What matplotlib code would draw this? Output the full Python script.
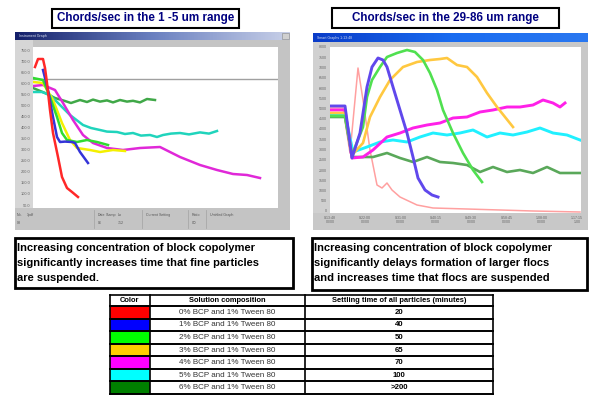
import numpy as np
import matplotlib
matplotlib.use("Agg")
import matplotlib.pyplot as plt
from matplotlib.patches import Rectangle
from matplotlib.colors import LinearSegmentedColormap

plt.rcParams["font.family"] = ["Liberation Sans", "DejaVu Sans"]

W, H = 592, 396

# -----------------------------
# Left chart: chords/sec, 1-5 um (time in min, counts)
# -----------------------------
l_red_t = [1, 2.5, 5, 6, 7, 8.5, 10, 12.5, 14.5, 17, 19.5, 22.5]
l_red_y = [705, 745, 745, 700, 625, 490, 375, 255, 155, 100, 80, 55]

l_blue_t = [5, 7.5, 10, 12, 13.5, 16, 19.5, 21, 23.5, 27.5]
l_blue_y = [690, 590, 455, 355, 330, 332, 330, 325, 280, 225]

l_green_t = [0, 5, 8.5, 12, 14.5, 17, 22, 27, 32, 37.5]
l_green_y = [650, 640, 555, 455, 375, 340, 330, 340, 330, 315]

l_yellow_t = [0, 5, 10, 14.5, 18.5, 22, 28.5, 33.5, 40, 46]
l_yellow_y = [630, 625, 540, 425, 340, 300, 290, 280, 290, 285]

l_magenta_t = [0, 5, 11, 15, 20, 25, 30, 37, 45, 53.5, 63.5, 73.5, 83.5, 92, 100, 107, 113.5]
l_magenta_y = [610, 615, 590, 525, 440, 365, 325, 300, 290, 300, 305, 255, 215, 190, 170, 165, 150]

l_cyan_t = [0, 4.5, 8.5, 12.5, 18.5, 25, 29, 33.5, 37, 42, 46, 50, 54, 58.5, 62, 65, 69, 73.5, 78, 83.5, 88, 92]
l_cyan_y = [580, 580, 565, 525, 465, 415, 400, 390, 382, 380, 370, 375, 362, 365, 355, 365, 372, 375, 368, 378, 372, 385]

l_dkgreen_t = [0, 6, 11, 16, 19, 23.5, 27, 30, 33.5, 37, 40, 43.5, 47, 50, 53.5, 57, 61]
l_dkgreen_y = [600, 575, 550, 535, 525, 540, 530, 542, 532, 538, 528, 540, 532, 536, 528, 545, 540]

l_ref_level = 645
l_tick_labels = ["750.0", "700.0", "650.0", "600.0", "550.0", "500.0", "450.0", "400.0",
                 "350.0", "300.0", "250.0", "200.0", "150.0", "100.0", "50.0"]

# -----------------------------
# Right chart: chords/sec, 29-86 um
# -----------------------------
r_red_t = [0, 6.5, 10, 14, 16.5, 20, 23.5, 26, 28.5, 31, 35, 43.5, 51.5, 68.5, 85, 101.5, 125]
r_red_y = [525, 525, 300, 725, 565, 315, 140, 125, 150, 115, 80, 40, 25, 20, 15, 10, 5]

r_blue_t = [0, 7.5, 11, 15, 18.5, 21, 24, 26.5, 28.5, 31.5, 35, 38.5, 41.5, 44, 47.5, 51, 54]
r_blue_y = [535, 535, 275, 400, 630, 730, 775, 765, 730, 630, 515, 400, 280, 175, 115, 90, 80]

r_green_t = [0, 7.5, 11, 16.5, 18.5, 21, 25, 28.5, 33.5, 38.5, 42.5, 46.5, 50, 53.5, 56.5, 61.5, 66.5, 71.5, 76]
r_green_y = [485, 485, 290, 430, 580, 665, 730, 780, 800, 815, 805, 765, 700, 615, 515, 400, 300, 215, 155]

r_yellow_t = [0, 7.5, 11, 16.5, 20, 25, 30, 36.5, 43.5, 50, 55, 58.5, 63.5, 68.5, 73.5, 78.5, 83.5, 87.5, 91.5]
r_yellow_y = [500, 500, 290, 350, 480, 580, 665, 730, 755, 765, 770, 775, 740, 730, 680, 600, 530, 480, 430]

r_magenta_t = [0, 7.5, 11, 16.5, 21.5, 28.5, 35, 41.5, 48.5, 55, 61.5, 68.5, 75, 81.5, 88.5, 95,
               101.5, 106.5, 111.5, 115, 117.5]
r_magenta_y = [515, 515, 275, 280, 315, 380, 400, 425, 440, 450, 475, 480, 505, 515, 530, 530,
               540, 565, 550, 530, 550]

r_cyan_t = [0, 7.5, 11.5, 18.5, 25, 31.5, 38.5, 45, 51.5, 58.5, 65, 71.5, 78.5, 85, 91.5, 98.5,
            105, 111.5, 118.5, 125]
r_cyan_y = [495, 495, 305, 330, 355, 365, 355, 380, 400, 390, 400, 415, 380, 400, 390, 405,
            425, 400, 390, 365]

r_dkgreen_t = [0, 7.5, 11, 16.5, 21.5, 28.5, 35, 41.5, 48.5, 55, 61.5, 68.5, 75, 81.5, 88.5, 95,
               101.5, 108.5, 115, 125]
r_dkgreen_y = [480, 480, 280, 280, 280, 300, 275, 255, 280, 255, 250, 240, 205, 230, 205, 215,
               200, 230, 200, 200]

r_tick_labels = ["8000", "7500", "7000", "6500", "6000", "5500", "5000", "4500", "4000",
                 "3500", "3000", "2500", "2000", "1500", "1000", "500", "0"]
r_time_labels = ["0:13:48\n00/00", "0:22:00\n00/00", "0:31:00\n00/00", "0:40:15\n00/00",
                 "0:49:30\n00/00", "0:58:45\n00/00", "1:08:00\n00/00", "1:17:15\n1:00"]

# -----------------------------
# Table
# -----------------------------
swatch_colors = ["#ff0000", "#0000ff", "#00ff00", "#ffcc00", "#ff00ff", "#00ffff", "#008000"]
compositions = ["0% BCP and 1% Tween 80", "1% BCP and 1% Tween 80", "2% BCP and 1% Tween 80",
                "3% BCP and 1% Tween 80", "4% BCP and 1% Tween 80", "5% BCP and 1% Tween 80",
                "6% BCP and 1% Tween 80"]
settling = ["20", "40", "50", "65", "70", "100", ">200"]
headers = ["Color", "Solution composition", "Settling time of all particles (minutes)"]


def box(x0, y0, x1, y1):
    return [x0 / W, 1 - y1 / H, (x1 - x0) / W, (y1 - y0) / H]


fig = plt.figure(figsize=(W / 100, H / 100), dpi=100)
bg = fig.add_axes([0, 0, 1, 1])
bg.axis("off")

# title boxes
bg.add_patch(Rectangle((52, 9), 187, 19, fc="white", ec="black", lw=1.5))
bg.text(145.5, 18.5, "Chords/sec in the 1 -5 um range", color="#000080",
        fontsize=8.4, fontweight="bold", ha="center", va="center")
bg.add_patch(Rectangle((332, 8), 227, 20, fc="white", ec="black", lw=1.5))
bg.text(445, 18, "Chords/sec in the 29-86 um range", color="#000080",
        fontsize=8.4, fontweight="bold", ha="center", va="center")

# window frames
bg.add_patch(Rectangle((15, 32), 275, 198, fc="#c4c4c4", ec="none"))
bg.add_patch(Rectangle((15, 40), 18, 168, fc="#d6d6d6", ec="none"))
bg.add_patch(Rectangle((313, 33), 275, 197, fc="#c8c8c8", ec="none"))
bg.add_patch(Rectangle((313, 42), 17, 171, fc="#d0d0d0", ec="none"))

grad = np.linspace(0, 1, 200).reshape(1, -1)
bg.imshow(grad, cmap=LinearSegmentedColormap.from_list("tl", ["#14206a", "#6a80c0", "#c8d0e8"]),
          extent=(15, 290, 40, 32), aspect="auto", zorder=3)
bg.imshow(grad, cmap=LinearSegmentedColormap.from_list("tr", ["#0a3cc8", "#1a6cf0", "#2a78f0"]),
          extent=(313, 588, 42, 33), aspect="auto", zorder=3)
bg.text(19, 36, "Instrument Graph", color="#d8e0f0", fontsize=2.5, va="center", zorder=4)
bg.text(317, 37.5, "Smart Graphs 1:13:48", color="#d8e0f0", fontsize=2.5, va="center", zorder=4)
bg.add_patch(Rectangle((282, 33), 7, 6, fc="#d0d0d0", ec="#888888", lw=0.4, zorder=4))

# left status bar
for (sx, sy, s) in [(17, 215, "No."), (27, 215, "1pdf"), (17, 223, "08"), (98, 215, "Date"),
                    (106, 215, "Stamp"), (118, 215, "Lo"), (98, 223, "06"), (118, 223, "712"),
                    (146, 215, "Current Setting"), (192, 215, "Ratio"), (192, 223, "C0"),
                    (210, 215, "Untitled Graph")]:
    bg.text(sx, sy, s, color="#555555", fontsize=2.6, va="center")
for sx in [94, 142, 188, 206]:
    bg.plot([sx, sx], [210, 228], color="#a8a8a8", lw=0.6)

# statement boxes
bg.add_patch(Rectangle((15, 238), 278, 50, fc="none", ec="black", lw=2))
bg.text(17, 263, "Increasing concentration of block copolymer\n"
                 "significantly increases time that fine particles\n"
                 "are suspended.",
        fontsize=8, fontweight="bold", va="center", ha="left", linespacing=1.6)
bg.add_patch(Rectangle((312, 238), 275, 52, fc="none", ec="black", lw=2))
bg.text(314, 263, "Increasing concentration of block copolymer\n"
                  "significantly delays formation of larger flocs\n"
                  "and increases time that flocs are suspended",
        fontsize=8, fontweight="bold", va="center", ha="left", linespacing=1.6)

# table
cx = [110, 150, 305, 493]
top, head_h = 295, 11
row_h = (394 - top - head_h) / len(compositions)
for i, col in enumerate(swatch_colors):
    y0 = top + head_h + i * row_h
    bg.add_patch(Rectangle((cx[0], y0), cx[1] - cx[0], row_h, fc=col, ec="none"))
    bg.text((cx[1] + cx[2]) / 2, y0 + row_h / 2, compositions[i], fontsize=5.8,
            color="#333333", ha="center", va="center")
    bg.text((cx[2] + cx[3]) / 2, y0 + row_h / 2, settling[i], fontsize=5.6,
            fontweight="bold", ha="center", va="center")
for j, htxt in enumerate(headers):
    bg.text((cx[j] + cx[j + 1]) / 2, top + head_h / 2, htxt, fontsize=5.4,
            fontweight="bold", ha="center", va="center")
for k in range(len(compositions) + 1):
    yy = top + head_h + k * row_h
    bg.plot([cx[0], cx[-1]], [yy, yy], color="black", lw=1.4)
bg.plot([cx[0], cx[-1]], [top, top], color="black", lw=1.2)
for xx in cx:
    bg.plot([xx, xx], [top, 394], color="black", lw=1.2)

bg.set_xlim(0, W)
bg.set_ylim(H, 0)

# -----------------------------
# left plot
# -----------------------------
axL = fig.add_axes(box(33, 47, 278, 208))
axL.set_facecolor("white")
axL.axhline(l_ref_level, color="#a0a0a0", lw=1)
lw = 1.8
axL.plot(l_dkgreen_t, l_dkgreen_y, color="#40a848", lw=lw)
axL.plot(l_cyan_t, l_cyan_y, color="#20d4bc", lw=lw)
axL.plot(l_magenta_t, l_magenta_y, color="#e028d8", lw=lw)
axL.plot(l_yellow_t, l_yellow_y, color="#f4f000", lw=lw)
axL.plot(l_green_t, l_green_y, color="#30dc30", lw=lw)
axL.plot(l_blue_t, l_blue_y, color="#3434d8", lw=lw)
axL.plot(l_red_t, l_red_y, color="#ff2828", lw=lw)
axL.set_xlim(0, 122.5)
axL.set_ylim(0, 805)
axL.set_yticks(np.linspace(790, 15, len(l_tick_labels)))
axL.set_yticklabels(l_tick_labels)
axL.set_xticks([])
axL.tick_params(length=0, labelsize=2.8, colors="#666666", pad=2)
for s in axL.spines.values():
    s.set_visible(False)

# -----------------------------
# right plot
# -----------------------------
axR = fig.add_axes(box(330, 47, 581, 213))
axR.set_facecolor("white")
axR.plot(r_red_t, r_red_y, color="#ffa0a0", lw=1.1)
axR.plot(r_dkgreen_t, r_dkgreen_y, color="#5aa85a", lw=1.9)
axR.plot(r_cyan_t, r_cyan_y, color="#20f0ff", lw=2.1)
axR.plot(r_magenta_t, r_magenta_y, color="#ff20e8", lw=2.1)
axR.plot(r_yellow_t, r_yellow_y, color="#ffc840", lw=1.9)
axR.plot(r_green_t, r_green_y, color="#50e050", lw=1.9)
axR.plot(r_blue_t, r_blue_y, color="#6048ec", lw=2.1)
axR.set_xlim(0, 125.5)
axR.set_ylim(0, 830)
axR.set_yticks(np.linspace(830, 10, len(r_tick_labels)))
axR.set_yticklabels(r_tick_labels)
axR.set_xticks(np.linspace(0, 123.5, len(r_time_labels)))
axR.set_xticklabels(r_time_labels)
axR.tick_params(length=0, labelsize=2.6, colors="#666666", pad=2)
for s in axR.spines.values():
    s.set_visible(False)

fig.savefig("out.png", dpi=100)
